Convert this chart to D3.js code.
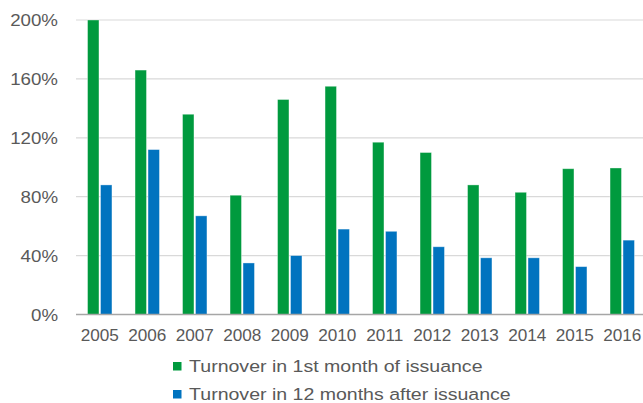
<!DOCTYPE html>
<html>
<head>
<meta charset="utf-8">
<script src="https://cdn.jsdelivr.net/npm/d3@7"></script>
<style>
  html, body { margin: 0; padding: 0; background: #fff; }
  svg { display: block; }
  text { font-family: "Liberation Sans", Arial, sans-serif; fill: #595959; }
</style>
</head>
<body>
<svg id="chart" width="643" height="403"></svg>
<script>
// data (percent)
const years = ['2005', '2006', '2007', '2008', '2009', '2010', '2011', '2012', '2013', '2014', '2015', '2016'];
const firstMonth = [200, 166, 136, 81, 146, 155, 117, 110, 88, 83, 99, 99.5];
const twelveMonths = [88, 112, 67, 35, 40, 58, 56.5, 46, 38.5, 38.5, 32.5, 50.5];
const yTicks = [0, 40, 80, 120, 160, 200];
const seriesNames = ['Turnover in 1st month of issuance', 'Turnover in 12 months after issuance'];
const colors = ['#009a3e', '#0073bf'];

const svg = d3.select('#chart');

const x0 = d3.scaleBand()
  .domain(years)
  .range([76, 646])
  .paddingInner(0.486)
  .paddingOuter(0.243);

const x1 = d3.scaleBand()
  .domain([0, 1])
  .range([0, x0.bandwidth()])
  .paddingInner(0.12);

const y = d3.scaleLinear()
  .domain([0, 200])
  .range([314.5, 20]);

// gridlines
svg.append('g')
  .selectAll('line')
  .data(yTicks.filter(d => d > 0))
  .enter()
  .append('line')
  .attr('x1', 76)
  .attr('x2', 643)
  .attr('y1', d => y(d))
  .attr('y2', d => y(d))
  .attr('stroke', '#d9d9d9')
  .attr('stroke-width', 1.2);

// y labels
const yAxis = svg.append('g')
  .attr('transform', 'translate(58,0)')
  .call(d3.axisLeft(y).tickValues(yTicks).tickSize(0).tickPadding(0).tickFormat(d => d + '%'));
yAxis.select('.domain').remove();
yAxis.selectAll('text')
  .attr('font-size', 17)
  .attr('dy', '0.35em')
  .attr('transform', 'scale(1.1,1)')
  .style('font-family', '"Liberation Sans", Arial, sans-serif')
  .attr('fill', '#595959');

// bars
const groups = svg.append('g')
  .selectAll('g')
  .data(years.map((yr, i) => ({ yr, vals: [firstMonth[i], twelveMonths[i]] })))
  .enter()
  .append('g')
  .attr('transform', d => `translate(${x0(d.yr)},0)`);

groups.selectAll('rect')
  .data(d => d.vals.map((v, s) => ({ v, s })))
  .enter()
  .append('rect')
  .attr('x', d => x1(d.s))
  .attr('width', x1.bandwidth())
  .attr('y', d => y(d.v))
  .attr('height', d => y(0) - y(d.v))
  .attr('fill', d => colors[d.s])
  .attr('stroke', 'rgba(255,255,255,0.45)')
  .attr('stroke-width', 0.8);

// x axis
const xAxis = svg.append('g')
  .attr('transform', `translate(0,${y(0)})`)
  .call(d3.axisBottom(x0).tickSize(0).tickPadding(15));
xAxis.select('.domain')
  .attr('d', 'M76,0H643')
  .attr('stroke', '#a6a6a6')
  .attr('stroke-width', 1.5);
xAxis.selectAll('text')
  .attr('font-size', 16.5)
  .attr('transform', 'scale(1.04,1)')
  .style('font-family', '"Liberation Sans", Arial, sans-serif')
  .attr('fill', '#595959');

// legend
const legend = svg.append('g')
  .selectAll('g')
  .data(seriesNames)
  .enter()
  .append('g')
  .attr('transform', (d, i) => `translate(173,${362 + i * 28})`);

legend.append('rect')
  .attr('width', 8.5)
  .attr('height', 8.5)
  .attr('fill', (d, i) => colors[i]);

legend.append('text')
  .attr('x', 14)
  .attr('y', 9.5)
  .attr('font-size', 17)
  .attr('transform', 'scale(1.15,1)')
  .text(d => d);
</script>
</body>
</html>
